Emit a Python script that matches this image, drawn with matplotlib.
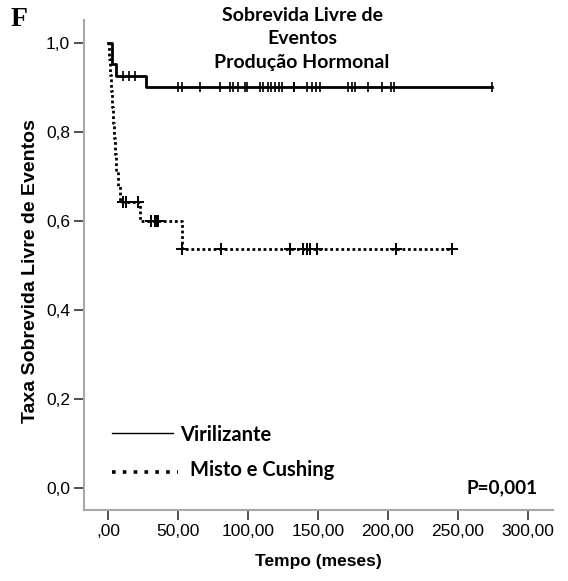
import numpy as np
import matplotlib
matplotlib.use("Agg")
import matplotlib.pyplot as plt
from matplotlib.ticker import FixedLocator, FuncFormatter

# Virilizante (linha continua)
vir_t = [0, 3, 6, 27]
vir_s = [1.0, 0.952, 0.926, 0.902]
vir_fim = 274.5
vir_cens = [11, 15, 19, 50, 53, 66, 80, 87, 89.5, 93, 98, 99.5, 108.5, 111, 114,
            116.5, 119.5, 122, 124, 132.5, 133, 142, 145.5, 148.5, 151.5, 171.5,
            174, 176.5, 186, 195.5, 202, 204, 274.5]

# Misto e Cushing (linha pontilhada)
mis_t = [0, 0.5, 1.5, 2, 3, 3.5, 4, 5, 6, 7, 8.5, 23, 52.5]
mis_s = [1.0, 0.964, 0.929, 0.893, 0.857, 0.821, 0.786, 0.75, 0.714, 0.679,
         0.643, 0.6, 0.536]
mis_fim = 245.5
mis_cens = [11, 13, 21.7, 31, 33.6, 34.8, 36, 52.6, 81, 130, 139.5, 142, 144,
            149, 205.7, 245.5]

x_ticks = [0, 50, 100, 150, 200, 250, 300]
y_ticks = [0.0, 0.2, 0.4, 0.6, 0.8, 1.0]


def valor_em(t, tempos, surv):
    i = np.searchsorted(tempos, t, side="right") - 1
    return np.array(surv)[i]


def fmt_x(v, p):
    s = ("%.2f" % v).replace(".", ",")
    return s.lstrip("0") if v == 0 else s


fig = plt.figure(figsize=(5.68, 5.81), dpi=100)
ax = fig.add_axes([84 / 568, 1 - 510 / 581, (553 - 84) / 568, (510 - 20) / 581])

# curvas
ax.step(vir_t + [vir_fim], vir_s + [vir_s[-1]], where="post", color="black", lw=2)
ax.step(mis_t + [mis_fim], mis_s + [mis_s[-1]], where="post", color="black", lw=2,
        linestyle=(0, (1, 1)))

# censuras
ax.plot(vir_cens, valor_em(vir_cens, vir_t, vir_s), linestyle="none", marker="|",
        ms=7, mew=1.2, color="black")
ax.plot(mis_cens, valor_em(mis_cens, mis_t, mis_s), linestyle="none", marker="+",
        ms=8, mew=1.4, color="black")

ax.set_xlim((84 - 108) / 1.4, (553 - 108) / 1.4)
ax.set_ylim((488 - 510) / 445, (488 - 20) / 445)

ax.xaxis.set_major_locator(FixedLocator(x_ticks))
ax.yaxis.set_major_locator(FixedLocator(y_ticks))
ax.xaxis.set_major_formatter(FuncFormatter(fmt_x))
ax.yaxis.set_major_formatter(FuncFormatter(lambda v, p: ("%.1f" % v).replace(".", ",")))

for s in ["top", "right"]:
    ax.spines[s].set_visible(False)
for s in ["left", "bottom"]:
    ax.spines[s].set_color("#a8a8a8")
    ax.spines[s].set_linewidth(1.5)

ax.tick_params(direction="out", length=7, width=1.2, color="#333333",
               labelsize=12.5, pad=3)
for lab in ax.get_xticklabels() + ax.get_yticklabels():
    lab.set_family("Liberation Sans")

ax.set_xlabel("Tempo (meses)", family="Liberation Sans", fontweight="bold",
              fontsize=12.5, labelpad=11)
ax.set_ylabel("Taxa Sobrevida Livre de Eventos", family="Liberation Sans",
              fontweight="bold", fontsize=14, labelpad=9)
ax.yaxis.set_label_coords(-0.095, (510 - 271) / 490)

# titulo
fig.text(302 / 568, 1 - 7 / 581, "Sobrevida Livre de\nEventos\nProdução Hormonal",
         ha="center", va="top", family="Lato", fontweight="bold", fontsize=14,
         linespacing=1.45)
fig.text(11 / 568, 1 - 19 / 581, "F", ha="left", va="center",
         family="Liberation Serif", fontweight="bold", fontsize=20)

# legenda
ax.plot([0.0597, 0.19], [0.157, 0.157], transform=ax.transAxes, color="black", lw=1)
ax.text(0.205, 0.153, "Virilizante", transform=ax.transAxes, va="center",
        family="Lato", fontweight="bold", fontsize=14.5)
ax.plot([0.0597, 0.2004], [0.078, 0.078], transform=ax.transAxes, color="black",
        lw=2.6, linestyle=(0, (1, 2.0)))
ax.text(0.226, 0.082, "Misto e Cushing", transform=ax.transAxes, va="center",
        family="Lato", fontweight="bold", fontsize=14.5)
ax.text(0.968, 0.045, "P=0,001", transform=ax.transAxes, ha="right", va="center",
        family="Lato", fontweight="bold", fontsize=13.7)

fig.savefig("out.png", dpi=100)
